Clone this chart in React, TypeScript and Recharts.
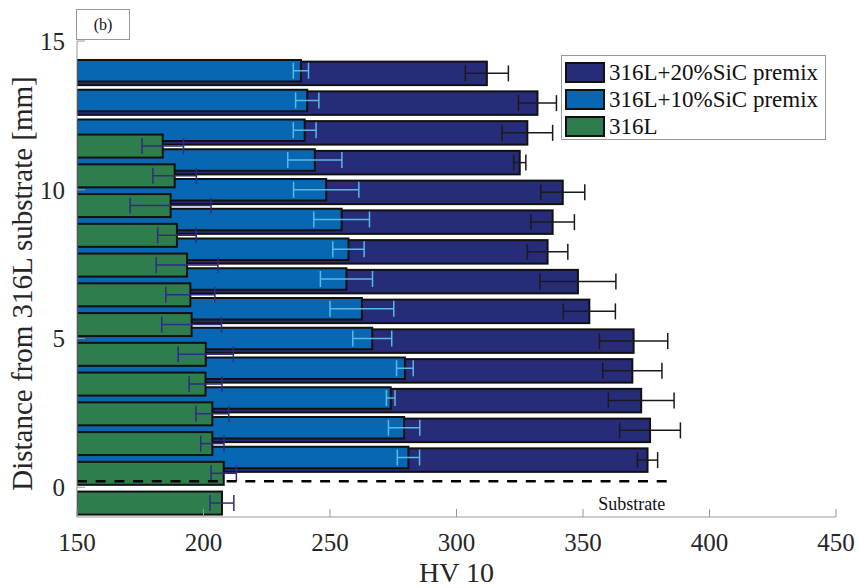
import React from "react";
import {
  ComposedChart,
  Bar,
  XAxis,
  YAxis,
  ErrorBar,
  ReferenceLine,
  Legend,
} from "recharts";

const FONT = '"Liberation Serif", "Times New Roman", serif';

const seriesNames = ["316L+20%SiC premix", "316L+10%SiC premix", "316L"];

// 316L+20%SiC premix
const sic20Pos = [13.88, 12.88, 11.88, 10.88, 9.88, 8.88, 7.88, 6.88, 5.88, 4.88, 3.88, 2.88, 1.88, 0.88];
const sic20Hv = [312, 332, 328, 325, 342, 338, 336, 348, 352.5, 370, 369.5, 373, 376.5, 375.5];
const sic20Err = [8.5, 7.5, 10, 2.4, 8.7, 8.6, 8, 15, 10.3, 13.5, 11.7, 13, 12, 4];

// 316L+10%SiC premix
const sic10Pos = [14, 13, 12, 11, 10, 9, 8, 7, 6, 5, 4, 3, 2, 1];
const sic10Hv = [238.5, 241, 240, 244, 248.5, 254.6, 257.3, 256.5, 262.6, 266.7, 279.6, 274, 279.3, 281];
const sic10Err = [3, 4.6, 4.5, 10.7, 12.9, 11, 6.2, 10.3, 12.6, 7.7, 3.3, 1.7, 6.2, 4.4];

// 316L
const plainPos = [11.5, 10.5, 9.5, 8.5, 7.5, 6.5, 5.5, 4.5, 3.5, 2.5, 1.5, 0.5, -0.5];
const plainHv = [183.9, 188.6, 187, 189.5, 193.5, 194.8, 195.3, 200.9, 200.8, 203.5, 203.5, 208, 207.3];
const plainErr = [8.2, 8.6, 16, 7.6, 12.2, 9.7, 11.8, 10.9, 6.5, 6.5, 4.6, 5, 4.7];

const xTicks = [150, 200, 250, 300, 350, 400, 450];
const yTicks = [0, 5, 10, 15];

const substrateLevel = 0.2;
const substrateSpan = [150, 386.5];

type Row = {
  pos: number;
  sic20: number | null;
  sic20Err: number | null;
  sic10: number | null;
  sic10Err: number | null;
  plain: number | null;
  plainErr: number | null;
};

function buildRows(): Row[] {
  const map = new Map<number, Row>();
  const put = (pos: number, key: string, v: number, e: number) => {
    let r = map.get(pos);
    if (!r) {
      r = { pos, sic20: null, sic20Err: null, sic10: null, sic10Err: null, plain: null, plainErr: null };
      map.set(pos, r);
    }
    (r as any)[key] = v;
    (r as any)[key + "Err"] = e;
  };
  sic20Pos.forEach((p, i) => put(p, "sic20", sic20Hv[i], sic20Err[i]));
  sic10Pos.forEach((p, i) => put(p, "sic10", sic10Hv[i], sic10Err[i]));
  plainPos.forEach((p, i) => put(p, "plain", plainHv[i], plainErr[i]));
  return Array.from(map.values()).sort((a, b) => a.pos - b.pos);
}

const data = buildRows();

// draws each bar with a fixed thickness around the centre the scale gives
function barShape(key: string, thickness: number) {
  return (props: any) => {
    const { x, y, width, height, fill, payload } = props;
    if (!payload || payload[key] == null || !isFinite(width)) return <g />;
    const cy = y + height / 2;
    return (
      <rect
        x={x}
        y={cy - thickness / 2}
        width={Math.max(width, 0)}
        height={thickness}
        fill={fill}
        stroke="#111"
        strokeWidth={2}
      />
    );
  };
}

const renderLegend = (props: any) => {
  const items = [...(props.payload ?? [])].sort(
    (a: any, b: any) => seriesNames.indexOf(a.value) - seriesNames.indexOf(b.value)
  );
  return (
    <div
      style={{
        boxSizing: "border-box",
        width: 265,
        height: 85,
        border: "1px solid #999",
        background: "#fff",
        padding: "3px 0 0 3px",
        fontFamily: FONT,
      }}
    >
      {items.map((it: any) => (
        <div key={it.value} style={{ display: "flex", alignItems: "center", height: 27 }}>
          <span
            style={{
              display: "inline-block",
              boxSizing: "border-box",
              width: 40,
              height: 21,
              background: it.color,
              border: "2px solid #111",
              marginRight: 4,
            }}
          />
          <span style={{ fontSize: 23, lineHeight: "27px", color: "#111", whiteSpace: "nowrap" }}>
            {it.value}
          </span>
        </div>
      ))}
    </div>
  );
};

const substrateLabel = (props: any) => {
  const vb = props.viewBox || {};
  const right = vb.width != null ? vb.x + vb.width : vb.x2 ?? 675;
  const top = vb.y ?? vb.y1 ?? 482;
  return (
    <text x={right - 10} y={top + 29} textAnchor="end" fontFamily={FONT} fontSize={18} fill="#111">
      Substrate
    </text>
  );
};

const yLabel = (props: any) => {
  const vb = props.viewBox || { x: 0, y: 41, width: 77, height: 476 };
  const cx = vb.x + 32;
  const cy = vb.y + vb.height / 2 + 4.5;
  return (
    <text
      x={cx}
      y={cy}
      transform={`rotate(-90 ${cx} ${cy})`}
      textAnchor="middle"
      fontFamily={FONT}
      fontSize={29}
      fill="#262626"
    >
      Distance from 316L substrate [mm]
    </text>
  );
};

const tickStyle = { fontFamily: FONT, fontSize: 25, fill: "#262626" };

export default function App() {
  return (
    <div style={{ position: "absolute", left: 0, top: 0, width: 860, height: 588, fontFamily: FONT, background: "#fff" }}>
      <ComposedChart
        width={860}
        height={588}
        data={data}
        layout="vertical"
        margin={{ top: 41, right: 24, bottom: 0, left: 0 }}
      >
        <XAxis
          type="number"
          domain={[150, 450]}
          ticks={xTicks}
          allowDataOverflow
          height={71}
          tickSize={-8}
          tickMargin={24}
          stroke="#999"
          tick={tickStyle}
          label={{ value: "HV 10", position: "insideBottom", offset: 6, fontFamily: FONT, fontSize: 28, fill: "#262626" }}
        />
        <XAxis
          xAxisId="top"
          orientation="top"
          type="number"
          domain={[150, 450]}
          ticks={xTicks}
          allowDataOverflow
          height={0}
          tickSize={-8}
          tick={false}
          stroke="#999"
        />
        <YAxis
          type="number"
          dataKey="pos"
          domain={[-1, 15]}
          ticks={yTicks}
          allowDataOverflow
          reversed
          width={77}
          tickSize={-8}
          tickMargin={20}
          stroke="#999"
          tick={tickStyle}
          label={yLabel}
        />
        <YAxis
          yAxisId="right"
          orientation="right"
          type="number"
          dataKey="pos"
          domain={[-1, 15]}
          ticks={yTicks}
          allowDataOverflow
          reversed
          width={0}
          tickSize={-8}
          tick={false}
          stroke="#999"
        />
        <Bar
          dataKey="sic20"
          name={seriesNames[0]}
          fill="#262c78"
          shape={barShape("sic20", 23.5)}
          isAnimationActive={false}
        >
          <ErrorBar dataKey="sic20Err" direction="x" width={8} stroke="#1a1a1a" strokeWidth={1.5} isAnimationActive={false} />
        </Bar>
        <Bar
          dataKey="sic10"
          name={seriesNames[1]}
          fill="#0867b2"
          shape={barShape("sic10", 21.5)}
          isAnimationActive={false}
        >
          <ErrorBar dataKey="sic10Err" direction="x" width={8} stroke="#5ab8e6" strokeWidth={1.5} isAnimationActive={false} />
        </Bar>
        <Bar
          dataKey="plain"
          name={seriesNames[2]}
          fill="#2e7d4c"
          shape={barShape("plain", 23)}
          isAnimationActive={false}
        >
          <ErrorBar dataKey="plainErr" direction="x" width={8} stroke="#2d2d82" strokeWidth={1.5} isAnimationActive={false} />
        </Bar>
        <ReferenceLine
          segment={[
            { x: substrateSpan[0], y: substrateLevel },
            { x: substrateSpan[1], y: substrateLevel },
          ]}
          stroke="#000"
          strokeWidth={2.5}
          strokeDasharray="10 8.7"
          label={substrateLabel}
        />
        <Legend
          layout="vertical"
          align="center"
          verticalAlign="middle"
          wrapperStyle={{ left: 561, top: 55, width: 265, height: 85 }}
          content={renderLegend}
        />
      </ComposedChart>
      <div
        style={{
          position: "absolute",
          left: 76,
          top: 9,
          width: 54,
          height: 31,
          boxSizing: "border-box",
          border: "1px solid #999",
          fontSize: 16,
          lineHeight: "29px",
          textAlign: "center",
          color: "#111",
        }}
      >
        (b)
      </div>
    </div>
  );
}
